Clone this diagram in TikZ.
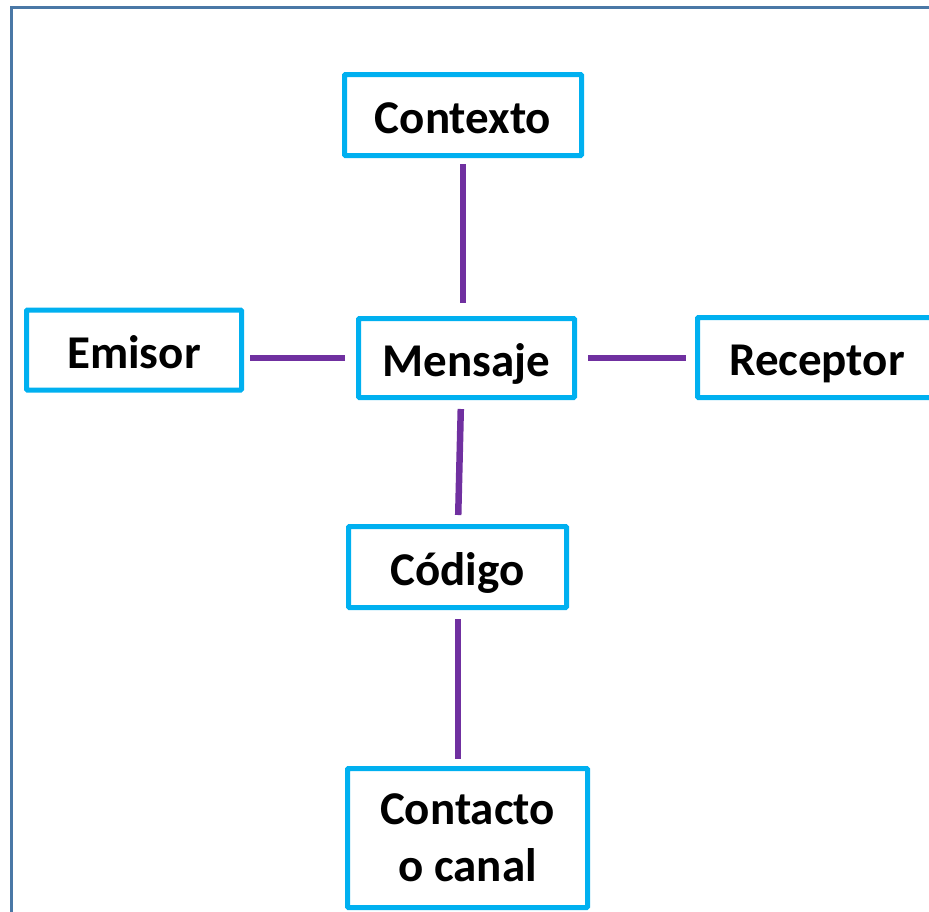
\documentclass[tikz,border=0pt]{standalone}
\usepackage{fontspec}
\setmainfont{Carlito}
\definecolor{boxblue}{HTML}{00B0F0}
\definecolor{linkpurple}{HTML}{7030A0}
\definecolor{framegray}{HTML}{4A78A6}
\tikzset{
    elem/.style={draw=boxblue, line width=5pt, fill=white, rounded corners=1pt,
        font=\fontsize{47}{57}\selectfont\bfseries, align=center, inner sep=0pt},
    word/.style={elem, text height=44pt, text depth=8pt},
    link/.style={draw=linkpurple, line width=6.5pt}
}
\begin{document}
\begin{tikzpicture}[x=1pt, y=-1pt]
        \clip (0,0) rectangle (929,911);
        \draw[framegray, line width=3pt] (940,7) -- (11,7) -- (11,920);
        \node[word, minimum width=237pt, minimum height=81pt] (ctx) at (463,115) {Contexto};
        \node[word, minimum width=215pt, minimum height=80pt] (emi) at (134,350) {Emisor};
        \node[word, minimum width=216pt, minimum height=79pt] (msg) at (466.5,358) {Mensaje};
        \node[word, minimum width=239pt, minimum height=80pt] (rec) at (817,357.5) {Receptor};
        \node[word, minimum width=218pt, minimum height=81pt] (cod) at (457.5,567) {Código};
        \node[elem, minimum width=240pt, minimum height=139pt] (con) at (467.5,838) {Contacto\\o canal};
        \draw[link, shorten <=6pt, shorten >=13pt] (ctx.south -| 463,0) -- (463,0 |- msg.north);
        \draw[link, shorten <=11pt, shorten >=6pt] (msg.west) -- (emi.east |- msg.west);
        \draw[link, shorten <=11pt, shorten >=9pt] (msg.east) -- (rec.west |- msg.east);
        \draw[link, shorten <=9pt, shorten >=9pt] (msg.south -| 461,0) -- (cod.north -| 458,0);
        \draw[link, shorten <=9pt, shorten >=7pt] (cod.south -| 458,0) -- (458,0 |- con.north);
\end{tikzpicture}
\end{document}
